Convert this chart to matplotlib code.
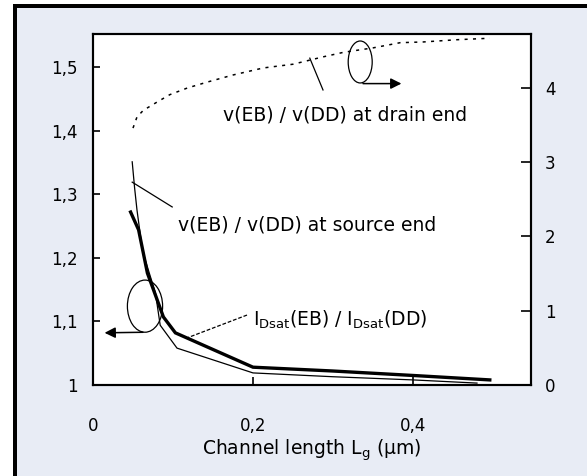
import matplotlib
matplotlib.use("Agg")
import matplotlib.pyplot as plt
from matplotlib.patches import Ellipse, Rectangle
from matplotlib.ticker import FuncFormatter

plt.rcParams["font.family"] = ["DejaVu Sans"]

# Idsat(EB)/Idsat(DD), left axis (thick)
idsat_x = [0.047, 0.057, 0.068, 0.088, 0.103, 0.2, 0.3, 0.4, 0.496]
idsat_y = [1.272, 1.244, 1.176, 1.107, 1.082, 1.028, 1.022, 1.015, 1.008]

# v(EB)/v(DD) at source end, left axis (thin)
src_x = [0.049, 0.052, 0.055, 0.062, 0.078, 0.084, 0.105, 0.2, 0.3, 0.4, 0.48]
src_y = [1.351, 1.31, 1.275, 1.21, 1.145, 1.094, 1.058, 1.019, 1.013, 1.008, 1.003]

# v(EB)/v(DD) at drain end, right axis (dotted)
drain_x = [0.05, 0.055, 0.063, 0.08, 0.096, 0.118, 0.143, 0.175, 0.213, 0.25,
           0.288, 0.313, 0.35, 0.384, 0.413, 0.455, 0.496]
drain_y = [3.46, 3.61, 3.70, 3.81, 3.91, 4.00, 4.08, 4.175, 4.27, 4.32,
           4.42, 4.48, 4.54, 4.61, 4.62, 4.65, 4.67]

left_ticks = [1.0, 1.1, 1.2, 1.3, 1.4, 1.5]
right_ticks = [0, 1, 2, 3, 4]
x_ticks = [0.0, 0.2, 0.4]

W, H = 587, 476
fig = plt.figure(figsize=(W / 100, H / 100), dpi=100, facecolor="white")
bg = "#e8ecf5"
fig.patches.append(Rectangle((13 / W, 0), 1, 1 - 4 / H, transform=fig.transFigure,
                             facecolor=bg, edgecolor="none", zorder=-3))
fig.patches.append(Rectangle((13 / W, 0), 3.5 / W, 1 - 4 / H, transform=fig.transFigure,
                             facecolor="black", edgecolor="none", zorder=-2))
fig.patches.append(Rectangle((13 / W, 1 - 7.5 / H), 1, 3.5 / H, transform=fig.transFigure,
                             facecolor="black", edgecolor="none", zorder=-2))

ax = fig.add_axes([93 / W, 1 - 385 / H, 438 / W, 351 / H])
ax.set_facecolor("white")
ax2 = ax.twinx()

ax.plot(idsat_x, idsat_y, color="black", lw=2.4, solid_joinstyle="miter")
ax.plot(src_x, src_y, color="black", lw=0.9)
ax2.plot(drain_x, drain_y, color="black", lw=1.1, linestyle=(0, (2, 3.5)))

ax.set_xlim(0, 0.5475)
ax.set_ylim(1.0, 1.552)
ax2.set_ylim(0, 4.727)

comma = FuncFormatter(lambda v, p: ("%g" % v).replace(".", ","))
ax.set_xticks(x_ticks)
ax.set_yticks(left_ticks)
ax2.set_yticks(right_ticks)
ax.xaxis.set_major_formatter(comma)
ax.yaxis.set_major_formatter(comma)

for s in ax.spines.values():
    s.set_linewidth(1.5)
for s in ax2.spines.values():
    s.set_linewidth(1.5)

tfs = 12
ax.tick_params(axis="y", direction="in", length=5, width=1.2, pad=11, labelsize=tfs)
ax.tick_params(axis="x", direction="in", length=6, width=1.2, pad=23, labelsize=tfs)
ax2.tick_params(axis="y", direction="in", length=7, width=1.2, pad=10, labelsize=tfs)

ax.set_xlabel("Channel length L$_\\mathregular{g}$ (µm)", fontsize=13.5, labelpad=2)

fs = 13.5
# drain end annotation
ax.add_patch(Ellipse((0.334, 1.508), 0.03, 0.066, fill=False, lw=0.9, ec="black"))
ax.annotate("", xy=(0.389, 1.474), xytext=(0.334, 1.474),
            arrowprops=dict(arrowstyle="-|>", color="black", lw=1.1, mutation_scale=16))
ax.plot([0.271, 0.2875], [1.514, 1.464], color="black", lw=0.9)
ax.text(0.1625, 1.4245, "v(EB) / v(DD) at drain end", fontsize=fs, va="center", ha="left")

# source end annotation
ax.plot([0.049, 0.099], [1.319, 1.280], color="black", lw=0.9)
ax.text(0.106, 1.2516, "v(EB) / v(DD) at source end", fontsize=fs, va="center", ha="left")

# Idsat annotation
ax.plot([0.1925, 0.1175], [1.110, 1.074], color="black", lw=0.9, linestyle=(0, (3, 1.5)))
ax.text(0.2, 1.102, "I$_\\mathregular{Dsat}$(EB) / I$_\\mathregular{Dsat}$(DD)",
        fontsize=fs, va="center", ha="left")
ax.add_patch(Ellipse((0.065, 1.124), 0.044, 0.082, fill=False, lw=0.9, ec="black"))
ax.annotate("", xy=(0.011, 1.082), xytext=(0.066, 1.083),
            arrowprops=dict(arrowstyle="-|>", color="black", lw=1.1, mutation_scale=16))

fig.savefig("out.png", dpi=100, facecolor="white")
